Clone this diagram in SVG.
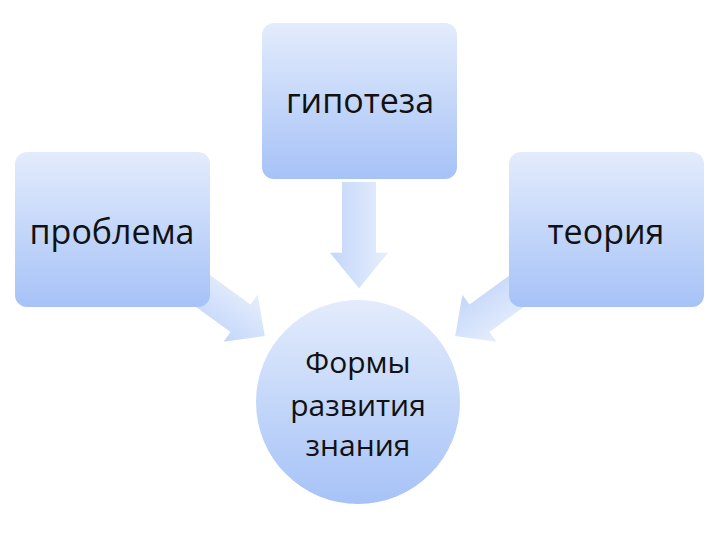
<svg xmlns="http://www.w3.org/2000/svg" width="720" height="540" viewBox="0 0 720 540">
<defs>
<linearGradient id="g" x1="0" y1="0" x2="0" y2="1"><stop offset="0" stop-color="#e3ecfc"/><stop offset="1" stop-color="#a6c2f7"/></linearGradient>
<linearGradient id="ga" x1="0" y1="0" x2="0" y2="1"><stop offset="0" stop-color="#e6eefc"/><stop offset="1" stop-color="#c3d6fa"/></linearGradient>
<path id="arr" d="M0,-17 H60 V-29 L90,0 L60,29 V17 H0 Z"/>
</defs>
<style>text{font-family:"Open Sans","Noto Sans",sans-serif;fill:#111;text-anchor:middle}.b{font-size:34px}.c{font-size:30px}</style>
<rect width="720" height="540" fill="#fff"/>
<g id="connectors" fill="url(#ga)">
<use href="#arr" transform="translate(359,182) rotate(90) scale(1.18,1)"/>
<use href="#arr" transform="translate(192,283) rotate(36)"/>
<use href="#arr" transform="translate(528,283) rotate(144)"/>
</g>
<g id="hypothesis"><rect x="262" y="23" width="195" height="156" rx="12" fill="url(#g)"/><text class="b" x="360" y="113">гипотеза</text></g>
<g id="problem"><rect x="15" y="152" width="195" height="155" rx="12" fill="url(#g)"/><text class="b" x="112" y="244">проблема</text></g>
<g id="theory"><rect x="509" y="152" width="195" height="155" rx="12" fill="url(#g)"/><text class="b" x="606" y="244">теория</text></g>
<g id="forms"><circle cx="358" cy="402" r="102" fill="url(#g)"/><text class="c" x="358" y="373">Формы</text><text class="c" x="358" y="416">развития</text><text class="c" x="358" y="456">знания</text></g>
</svg>
